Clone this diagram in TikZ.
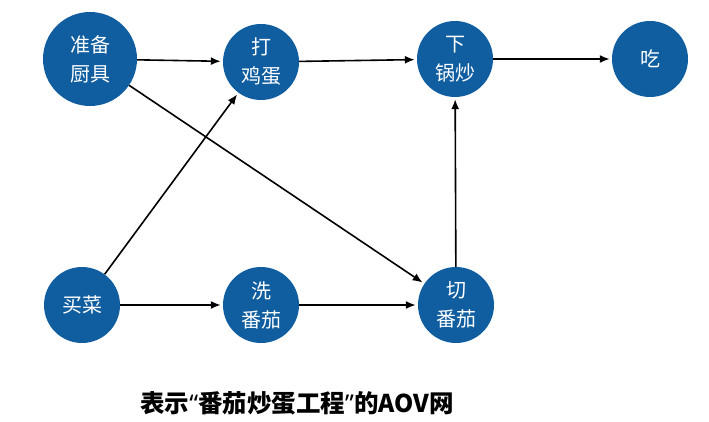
\documentclass[tikz,border=0pt]{standalone}
\usepackage{fontspec}
\newfontfamily\cjk{Noto Sans CJK SC}
\newfontfamily\quotefont{Noto Sans}
\usetikzlibrary{arrows.meta}
\definecolor{nodeblue}{RGB}{16,94,160}

\begin{document}
\begin{tikzpicture}[x=1pt,y=-1pt,
    task/.style={circle,fill=nodeblue,text=white,minimum size=76pt,inner sep=0pt,
      align=center,font=\cjk\fontsize{20}{29}\selectfont},
    link/.style={line width=1.6pt,-{Latex[length=10pt,width=8pt]},shorten >=2pt}]
        \useasboundingbox (0,0) rectangle (709,422);
        % Define tasks
        \node[task,minimum size=94pt] (kit) at (90,59) {准备\\厨具};
        \node[task] (egg) at (261,62) {打\\鸡蛋};
        \node[task] (fry) at (455,59) {下\\锅炒};
        \node[task] (eat) at (650,59) {吃};
        \node[task] (buy) at (82,305) {买菜};
        \node[task] (wash) at (261,305) {洗\\番茄};
        \node[task] (cut) at (456,305) {切\\番茄};
        % Arcs
        \draw[link] (kit) -- (egg);
        \draw[link] (egg) -- (fry);
        \draw[link] (fry) -- (eat);
        \draw[link] (kit) -- (cut);
        \draw[link] (buy) -- (egg);
        \draw[link] (buy) -- (wash);
        \draw[link] (wash) -- (cut);
        \draw[link] (cut) -- (fry);
        % Caption
        \node[font=\cjk\bfseries\fontsize{24.5}{28}\selectfont,inner sep=0pt] (title) at (297,403)
          {表示{\quotefont\bfseries “}番茄炒蛋工程{\quotefont\bfseries ”}的AOV网};
      \end{tikzpicture}
\end{document}
